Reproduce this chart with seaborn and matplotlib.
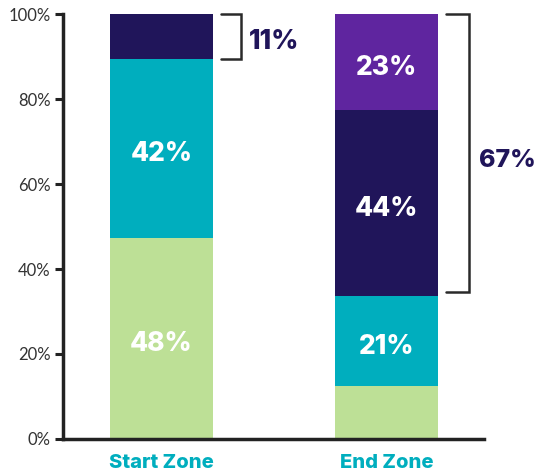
import matplotlib
matplotlib.use("Agg")
import matplotlib.pyplot as plt
import seaborn as sns
import pandas as pd
import numpy as np

# ---- data ----
zones = ["Start Zone", "End Zone"]
segments = ["Low", "Mid", "High", "Top"]
start_values = [47.3, 42.1, 10.6, 0.0]
end_values = [12.5, 21.1, 43.8, 22.6]
start_labels = ["48%", "42%", "", ""]
end_labels = ["", "21%", "44%", "23%"]
bracket_labels = ["11%", "67%"]
yticks = [0, 20, 40, 60, 80, 100]
ytick_labels = ["0%", "20%", "40%", "60%", "80%", "100%"]

colors = ["#BDE096", "#00AEBE", "#20155A", "#5F259F"]
navy = "#20155A"

sns.set_theme(style="white")
plt.rcParams["font.family"] = ["Lato", "DejaVu Sans"]
BOLD = dict(family=["Inter", "DejaVu Sans"], fontweight="heavy")

fig = plt.figure(figsize=(5.38, 4.75), dpi=100)
ax = fig.add_axes([0.1171, 0.0758, 0.7825, 0.8947])

vals = np.array([start_values, end_values])
bottoms = np.zeros(2)
for i, seg in enumerate(segments):
    df = pd.DataFrame({"zone": zones, "value": vals[:, i]})
    sns.barplot(data=df, x="zone", y="value", color=colors[i], bottom=bottoms,
                width=0.458, saturation=1, ax=ax, edgecolor="none", linewidth=0)
    bottoms = bottoms + vals[:, i]

# segment labels
all_labels = [start_labels, end_labels]
for zi in range(2):
    cum = np.concatenate([[0], np.cumsum(vals[zi])])
    for si in range(4):
        lab = all_labels[zi][si]
        if lab:
            ax.text(zi, (cum[si] + cum[si + 1]) / 2 - 1.4, lab, ha="center", va="center",
                    color="white", fontsize=19, **BOLD)

# brackets
cs = np.cumsum(vals[0])
ce = np.cumsum(vals[1])
def bracket(x0, x1, y0, y1):
    ax.plot([x0, x1, x1, x0], [y1, y1, y0, y0], color="#2a2a2a", lw=1.8,
            clip_on=False, solid_joinstyle="miter")

bracket(0.264, 0.353, cs[1], 100)
ax.text(0.389, (cs[1] + 100) / 2 - 1.2, bracket_labels[0], ha="left", va="center",
        color=navy, fontsize=19, clip_on=False, **BOLD)
bracket(1.264, 1.367, ce[1] + 1.0, 100)
ax.text(1.412, 65.6, bracket_labels[1], ha="left", va="center",
        color=navy, fontsize=18, clip_on=False, **BOLD)

ax.set_xlim(-0.438, 1.433)
ax.set_ylim(0, 100)
ax.set_yticks(yticks)
ax.set_yticklabels(ytick_labels, fontsize=12, color="#333333")
ax.set_xlabel("")
ax.set_ylabel("")
for lab in ax.get_xticklabels():
    lab.set_color("#00AEBE")
    lab.set_fontsize(14.5)
    lab.set_family(["Inter", "DejaVu Sans"])
    lab.set_fontweight("heavy")
ax.tick_params(axis="y", length=6, width=2.2, color="#222222", left=True, pad=3)
ax.tick_params(axis="x", length=0, pad=11)
sns.despine(ax=ax, top=True, right=True)
for s in ["left", "bottom"]:
    ax.spines[s].set_linewidth(2.5)
    ax.spines[s].set_color("#222222")

fig.savefig("out.png", dpi=100)
